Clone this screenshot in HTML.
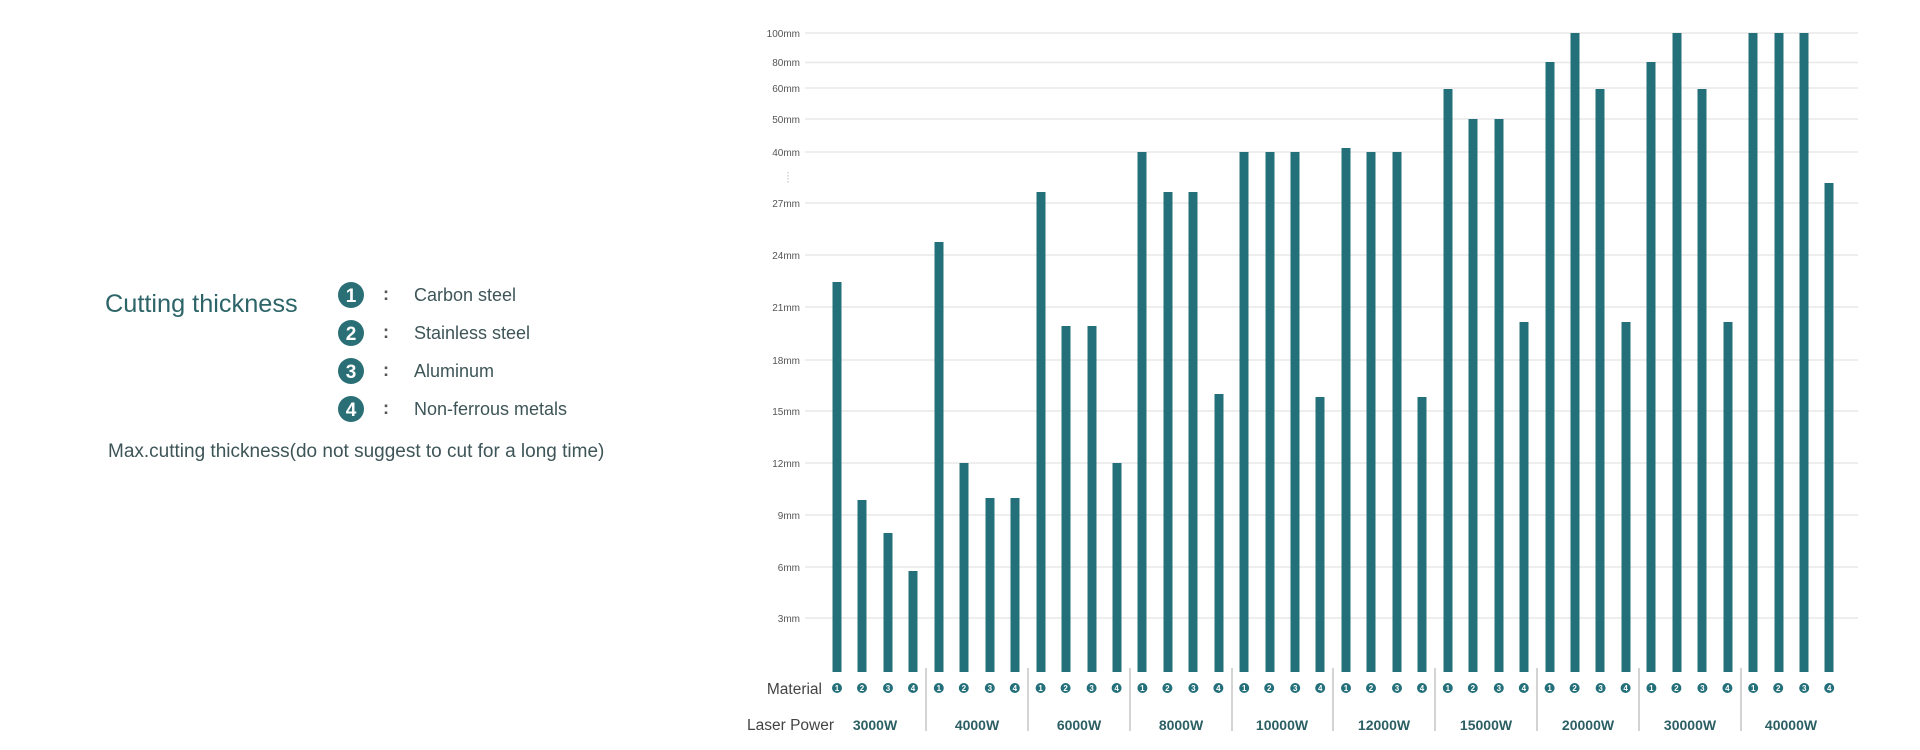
<!DOCTYPE html>
<html><head><meta charset="utf-8"><style>
html,body{margin:0;padding:0;background:#fff;}
svg{display:block;font-family:"Liberation Sans",sans-serif;}
</style></head><body>
<svg width="1920" height="750" viewBox="0 0 1920 750" xmlns="http://www.w3.org/2000/svg">
<!-- left legend -->
<text x="105" y="312" font-size="25.3" fill="#2c6468">Cutting thickness</text>
<g font-weight="bold" font-size="19" fill="#fff" text-anchor="middle">
<circle cx="351" cy="295" r="13" fill="#2a6f75"/><text x="351" y="302">1</text>
<circle cx="351" cy="333" r="13" fill="#2a6f75"/><text x="351" y="340">2</text>
<circle cx="351" cy="371" r="13" fill="#2a6f75"/><text x="351" y="378">3</text>
<circle cx="351" cy="409" r="13" fill="#2a6f75"/><text x="351" y="416">4</text>
</g>
<g font-size="18" fill="#3e5558">
<text x="383" y="300" font-weight="bold" fill="#555">:</text><text x="414" y="301">Carbon steel</text>
<text x="383" y="338" font-weight="bold" fill="#555">:</text><text x="414" y="339">Stainless steel</text>
<text x="383" y="376" font-weight="bold" fill="#555">:</text><text x="414" y="377">Aluminum</text>
<text x="383" y="414" font-weight="bold" fill="#555">:</text><text x="414" y="415">Non-ferrous metals</text>
<text x="108" y="457" font-size="19">Max.cutting thickness(do not suggest to cut for a long time)</text>
</g>
<!-- grid -->
<g stroke="#e8e8e8" stroke-width="1.5">
<line x1="805" x2="1858" y1="33" y2="33"/><line x1="805" x2="1858" y1="62.5" y2="62.5"/>
<line x1="805" x2="1858" y1="88" y2="88"/><line x1="805" x2="1858" y1="119" y2="119"/>
<line x1="805" x2="1858" y1="152" y2="152"/><line x1="805" x2="1858" y1="203" y2="203"/>
<line x1="805" x2="1858" y1="255" y2="255"/><line x1="805" x2="1858" y1="307" y2="307"/>
<line x1="805" x2="1858" y1="360" y2="360"/><line x1="805" x2="1858" y1="411" y2="411"/>
<line x1="805" x2="1858" y1="463" y2="463"/><line x1="805" x2="1858" y1="515" y2="515"/>
<line x1="805" x2="1858" y1="567" y2="567"/><line x1="805" x2="1858" y1="618" y2="618"/>
</g>
<line x1="788" x2="788" y1="172" y2="184" stroke="#bbb" stroke-dasharray="1.5,1.5"/>
<g font-size="10" fill="#555" text-anchor="end">
<text x="800" y="37">100mm</text><text x="800" y="66">80mm</text><text x="800" y="92">60mm</text>
<text x="800" y="123">50mm</text><text x="800" y="156">40mm</text><text x="800" y="207">27mm</text>
<text x="800" y="259">24mm</text><text x="800" y="311">21mm</text><text x="800" y="364">18mm</text>
<text x="800" y="415">15mm</text><text x="800" y="467">12mm</text><text x="800" y="519">9mm</text>
<text x="800" y="571">6mm</text><text x="800" y="622">3mm</text>
</g>
<!-- bars -->
<g fill="#24707a">
<rect x="832.5" y="282" width="9" height="390"/><rect x="857.5" y="500" width="9" height="172"/><rect x="883.5" y="533" width="9" height="139"/><rect x="908.5" y="571" width="9" height="101"/>
<rect x="934.5" y="242" width="9" height="430"/><rect x="959.5" y="463" width="9" height="209"/><rect x="985.5" y="498" width="9" height="174"/><rect x="1010.5" y="498" width="9" height="174"/>
<rect x="1036.5" y="192" width="9" height="480"/><rect x="1061.5" y="326" width="9" height="346"/><rect x="1087.5" y="326" width="9" height="346"/><rect x="1112.5" y="463" width="9" height="209"/>
<rect x="1137.5" y="152" width="9" height="520"/><rect x="1163.5" y="192" width="9" height="480"/><rect x="1188.5" y="192" width="9" height="480"/><rect x="1214.5" y="394" width="9" height="278"/>
<rect x="1239.5" y="152" width="9" height="520"/><rect x="1265.5" y="152" width="9" height="520"/><rect x="1290.5" y="152" width="9" height="520"/><rect x="1315.5" y="397" width="9" height="275"/>
<rect x="1341.5" y="148" width="9" height="524"/><rect x="1366.5" y="152" width="9" height="520"/><rect x="1392.5" y="152" width="9" height="520"/><rect x="1417.5" y="397" width="9" height="275"/>
<rect x="1443.5" y="89" width="9" height="583"/><rect x="1468.5" y="119" width="9" height="553"/><rect x="1494.5" y="119" width="9" height="553"/><rect x="1519.5" y="322" width="9" height="350"/>
<rect x="1545.5" y="62" width="9" height="610"/><rect x="1570.5" y="33" width="9" height="639"/><rect x="1595.5" y="89" width="9" height="583"/><rect x="1621.5" y="322" width="9" height="350"/>
<rect x="1646.5" y="62" width="9" height="610"/><rect x="1672.5" y="33" width="9" height="639"/><rect x="1697.5" y="89" width="9" height="583"/><rect x="1723.5" y="322" width="9" height="350"/>
<rect x="1748.5" y="33" width="9" height="639"/><rect x="1774.5" y="33" width="9" height="639"/><rect x="1799.5" y="33" width="9" height="639"/><rect x="1824.5" y="183" width="9" height="489"/>
</g>
<!-- separators -->
<g stroke="#aaa" stroke-width="1">
<line x1="926" x2="926" y1="668" y2="731"/><line x1="1028" x2="1028" y1="668" y2="731"/>
<line x1="1130" x2="1130" y1="668" y2="731"/><line x1="1232" x2="1232" y1="668" y2="731"/>
<line x1="1333" x2="1333" y1="668" y2="731"/><line x1="1435" x2="1435" y1="668" y2="731"/>
<line x1="1537" x2="1537" y1="668" y2="731"/><line x1="1639" x2="1639" y1="668" y2="731"/>
<line x1="1741" x2="1741" y1="668" y2="731"/>
</g>
<text x="822" y="694" font-size="15.5" fill="#444" text-anchor="end">Material</text>
<text x="747" y="730" font-size="15.5" fill="#444">Laser Power</text>
<!-- material markers -->
<g id="m0">
<circle cx="837" cy="688" r="5" fill="#24707a"/><circle cx="862" cy="688" r="5" fill="#24707a"/><circle cx="888" cy="688" r="5" fill="#24707a"/><circle cx="913" cy="688" r="5" fill="#24707a"/>
<g font-size="8" font-weight="bold" fill="#fff" text-anchor="middle"><text x="837" y="691">1</text><text x="862" y="691">2</text><text x="888" y="691">3</text><text x="913" y="691">4</text></g>
</g>
<use href="#m0" x="101.8"/><use href="#m0" x="203.6"/><use href="#m0" x="305.4"/><use href="#m0" x="407.2"/>
<use href="#m0" x="509"/><use href="#m0" x="610.8"/><use href="#m0" x="712.6"/><use href="#m0" x="814.4"/><use href="#m0" x="916.2"/>
<g font-size="14" font-weight="bold" fill="#2c5f64" text-anchor="middle">
<text x="875" y="730">3000W</text><text x="977" y="730">4000W</text><text x="1079" y="730">6000W</text>
<text x="1181" y="730">8000W</text><text x="1282" y="730">10000W</text><text x="1384" y="730">12000W</text>
<text x="1486" y="730">15000W</text><text x="1588" y="730">20000W</text><text x="1690" y="730">30000W</text>
<text x="1791" y="730">40000W</text>
</g>
</svg>
</body></html>
